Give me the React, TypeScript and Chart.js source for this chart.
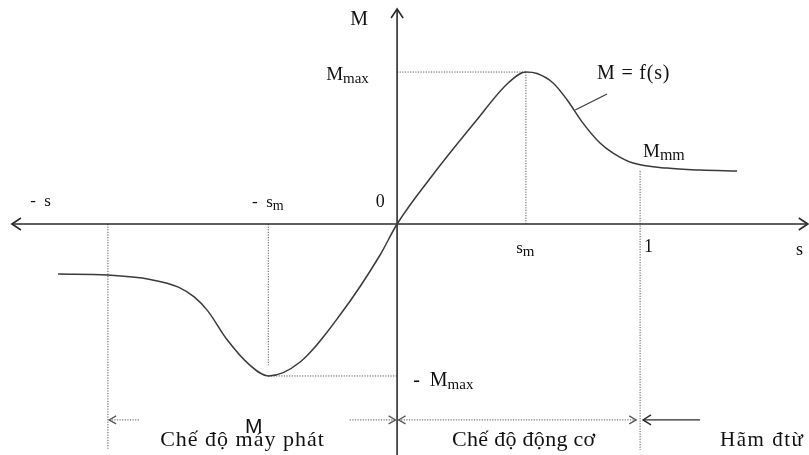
import { useEffect, useRef } from "react";
import { Chart, registerables } from "chart.js";

Chart.register(...registerables);

const W = 809;
const H = 455;

// Torque–slip characteristic M = f(s): slip s (1 = standstill), torque in units of Mmax
const curveS = [-1.395, -1.193, -1.016, -0.9, -0.835, -0.78, -0.7, -0.605, -0.53, -0.399, -0.235, -0.07, 0, 0.156, 0.321, 0.457, 0.53, 0.576, 0.642, 0.7, 0.765, 0.835, 0.889, 0.971, 1.111, 1.247, 1.399];
const curveM = [-0.329, -0.336, -0.365, -0.415, -0.48, -0.57, -0.76, -0.93, -1.0, -0.908, -0.599, -0.204, 0, 0.342, 0.671, 0.928, 1.0, 0.99, 0.928, 0.816, 0.664, 0.533, 0.467, 0.401, 0.368, 0.355, 0.349];

// Characteristic points
const S_M = 0.53; // critical slip
const M_MAX = 1; // breakdown torque
const S_ONE = 1; // standstill
const M_START = 0.349; // starting torque Mmm at s = 1
const S_GEN = -1.19; // left edge of the generator region
const S_GEN_TIP = -0.93; // end of the dotted guide under -sm
const M_BAND = -1.289; // level of the region arrows
const M_FLOOR = -1.487; // bottom of the vertical guides

// Visible window of the s–M plane
const S_MIN = -1.634;
const S_MAX = 1.695;
const M_LOW = -1.52;
const M_HIGH = 1.474;

// Axis extents
const X_AXIS_FROM = -1.585;
const X_AXIS_TO = 1.69;
const Y_AXIS_TOP = 1.415;

const SERIF = "'Liberation Serif', 'Times New Roman', serif";
const SANS = "'Liberation Sans', Arial, sans-serif";

type Label = { text: string; sub?: string; s: number; m: number; size: number; subSize?: number; font?: string; spacing?: number };

const labels: Label[] = [
  { text: "M", s: -0.193, m: 1.31, size: 20 },
  { text: "M", sub: "max", s: -0.292, m: 0.947, size: 19, subSize: 15 },
  { text: "M = f(s)", s: 0.823, m: 0.954, size: 20, spacing: 0.8 },
  { text: "M", sub: "mm", s: 1.012, m: 0.441, size: 19, subSize: 16 },
  { text: "0", s: -0.088, m: 0.112, size: 18 },
  { text: "-  s", s: -1.51, m: 0.118, size: 17 },
  { text: "-  s", sub: "m", s: -0.597, m: 0.112, size: 17, subSize: 14 },
  { text: "s", sub: "m", s: 0.49, m: -0.191, size: 17, subSize: 15 },
  { text: "1", s: 1.016, m: -0.184, size: 18 },
  { text: "s", s: 1.642, m: -0.204, size: 18 },
  { text: "-  M", sub: "max", s: 0.066, m: -1.066, size: 20, subSize: 15 },
  { text: "Chế độ máy phát", s: -0.975, m: -1.46, size: 22, spacing: 1 },
  { text: "M", s: -0.626, m: -1.375, size: 21, font: SANS },
  { text: "Chế độ động cơ", s: 0.226, m: -1.46, size: 22, spacing: 0.3 },
  { text: "Hãm đtừ", s: 1.329, m: -1.46, size: 21, spacing: 1.5 },
];

type Arrow = { s: number; m: number; dir: "left" | "right" | "up"; len: number; half: number; color: string; width: number };

const AXIS = "#2b2b2b";
const CURVE = "#3a3a3a";
const GUIDE = "#555555";

const arrows: Arrow[] = [
  { s: X_AXIS_FROM, m: 0, dir: "left", len: 9, half: 6, color: AXIS, width: 1.6 },
  { s: X_AXIS_TO, m: 0, dir: "right", len: 9, half: 6, color: AXIS, width: 1.6 },
  { s: 0, m: Y_AXIS_TOP, dir: "up", len: 9, half: 6, color: AXIS, width: 1.6 },
  { s: -1.185, m: M_BAND, dir: "left", len: 7, half: 4, color: GUIDE, width: 1.2 },
  { s: -0.006, m: M_BAND, dir: "right", len: 7, half: 4, color: GUIDE, width: 1.2 },
  { s: 0.006, m: M_BAND, dir: "left", len: 7, half: 4, color: GUIDE, width: 1.2 },
  { s: 0.984, m: M_BAND, dir: "right", len: 7, half: 4, color: GUIDE, width: 1.2 },
  { s: 1.012, m: M_BAND, dir: "left", len: 8, half: 5, color: AXIS, width: 1.4 },
];

type Pt = { x: number; y: number };

const seg = (pts: Pt[], color: string, width: number, dash: number[] = []) => ({
  type: "line" as const,
  data: pts,
  borderColor: color,
  borderWidth: width,
  borderDash: dash,
  pointRadius: 0,
  tension: 0,
  fill: false,
  clip: false as const,
});

const DOT = [1.2, 1.4];

export default function App() {
  const ref = useRef<HTMLCanvasElement | null>(null);

  useEffect(() => {
    const canvas = ref.current;
    if (!canvas) return;

    const curve = curveS.map((s, i) => ({ x: s, y: curveM[i] }));

    const overlay = {
      id: "overlay",
      afterDatasetsDraw(chart: Chart) {
        const { ctx } = chart;
        const xs = chart.scales.x;
        const ys = chart.scales.y;
        ctx.save();
        // arrowheads
        for (const a of arrows) {
          const x = xs.getPixelForValue(a.s);
          const y = ys.getPixelForValue(a.m);
          ctx.strokeStyle = a.color;
          ctx.lineWidth = a.width;
          ctx.setLineDash([]);
          ctx.beginPath();
          if (a.dir === "left") {
            ctx.moveTo(x + a.len, y - a.half);
            ctx.lineTo(x, y);
            ctx.lineTo(x + a.len, y + a.half);
          } else if (a.dir === "right") {
            ctx.moveTo(x - a.len, y - a.half);
            ctx.lineTo(x, y);
            ctx.lineTo(x - a.len, y + a.half);
          } else {
            ctx.moveTo(x - a.half, y + a.len);
            ctx.lineTo(x, y);
            ctx.lineTo(x + a.half, y + a.len);
          }
          ctx.stroke();
        }
        // text
        ctx.fillStyle = "#111111";
        ctx.textBaseline = "alphabetic";
        ctx.textAlign = "left";
        const c = ctx as any;
        for (const l of labels) {
          const x = xs.getPixelForValue(l.s);
          const y = ys.getPixelForValue(l.m);
          c.letterSpacing = `${l.spacing ?? 0}px`;
          ctx.font = `${l.size}px ${l.font ?? SERIF}`;
          ctx.fillText(l.text, x, y);
          if (l.sub) {
            const w = ctx.measureText(l.text).width;
            c.letterSpacing = "0px";
            ctx.font = `${l.subSize ?? 12}px ${l.font ?? SERIF}`;
            ctx.fillText(l.sub, x + w, y + 3);
          }
        }
        c.letterSpacing = "0px";
        ctx.restore();
      },
    };

    const chart = new Chart(canvas, {
      type: "scatter",
      data: {
        datasets: [
          // torque–slip curve
          {
            type: "line",
            data: curve,
            borderColor: CURVE,
            borderWidth: 1.5,
            pointRadius: 0,
            cubicInterpolationMode: "monotone",
            fill: false,
            clip: false,
          },
          // axes
          seg([{ x: X_AXIS_FROM, y: 0 }, { x: X_AXIS_TO, y: 0 }], AXIS, 1.6),
          seg([{ x: 0, y: M_LOW }, { x: 0, y: Y_AXIS_TOP }], AXIS, 1.6),
          // dotted guides
          seg([{ x: 0, y: M_MAX }, { x: S_M, y: M_MAX }], GUIDE, 1, DOT),
          seg([{ x: S_M, y: M_MAX }, { x: S_M, y: 0 }], GUIDE, 1, DOT),
          seg([{ x: -S_M, y: -M_MAX }, { x: 0, y: -M_MAX }], GUIDE, 1, DOT),
          seg([{ x: -S_M, y: 0 }, { x: -S_M, y: S_GEN_TIP }], GUIDE, 1, DOT),
          seg([{ x: S_GEN, y: 0 }, { x: S_GEN, y: M_FLOOR }], GUIDE, 1, DOT),
          seg([{ x: S_ONE, y: M_START }, { x: S_ONE, y: M_FLOOR }], GUIDE, 1, DOT),
          // leader for M = f(s)
          seg([{ x: 0.733, y: 0.75 }, { x: 0.864, y: 0.855 }], CURVE, 1.2),
          // operating region arrows
          seg([{ x: -1.185, y: M_BAND }, { x: -1.06, y: M_BAND }], GUIDE, 1, DOT),
          seg([{ x: -0.195, y: M_BAND }, { x: -0.006, y: M_BAND }], GUIDE, 1, DOT),
          seg([{ x: 0.006, y: M_BAND }, { x: 0.984, y: M_BAND }], GUIDE, 1, DOT),
          seg([{ x: 1.012, y: M_BAND }, { x: 1.247, y: M_BAND }], AXIS, 1.4),
        ] as any,
      },
      options: {
        animation: false,
        responsive: false,
        devicePixelRatio: 1,
        layout: { padding: 0 },
        plugins: { legend: { display: false }, tooltip: { enabled: false }, title: { display: false } },
        scales: {
          x: { type: "linear", min: S_MIN, max: S_MAX, display: false },
          y: { type: "linear", min: M_LOW, max: M_HIGH, display: false },
        },
      },
      plugins: [overlay],
    });

    return () => chart.destroy();
  }, []);

  return (
    <div style={{ position: "absolute", left: 0, top: 0, width: W, height: H, background: "#ffffff" }}>
      <canvas ref={ref} width={W} height={H} style={{ display: "block", width: W, height: H }} />
    </div>
  );
}
